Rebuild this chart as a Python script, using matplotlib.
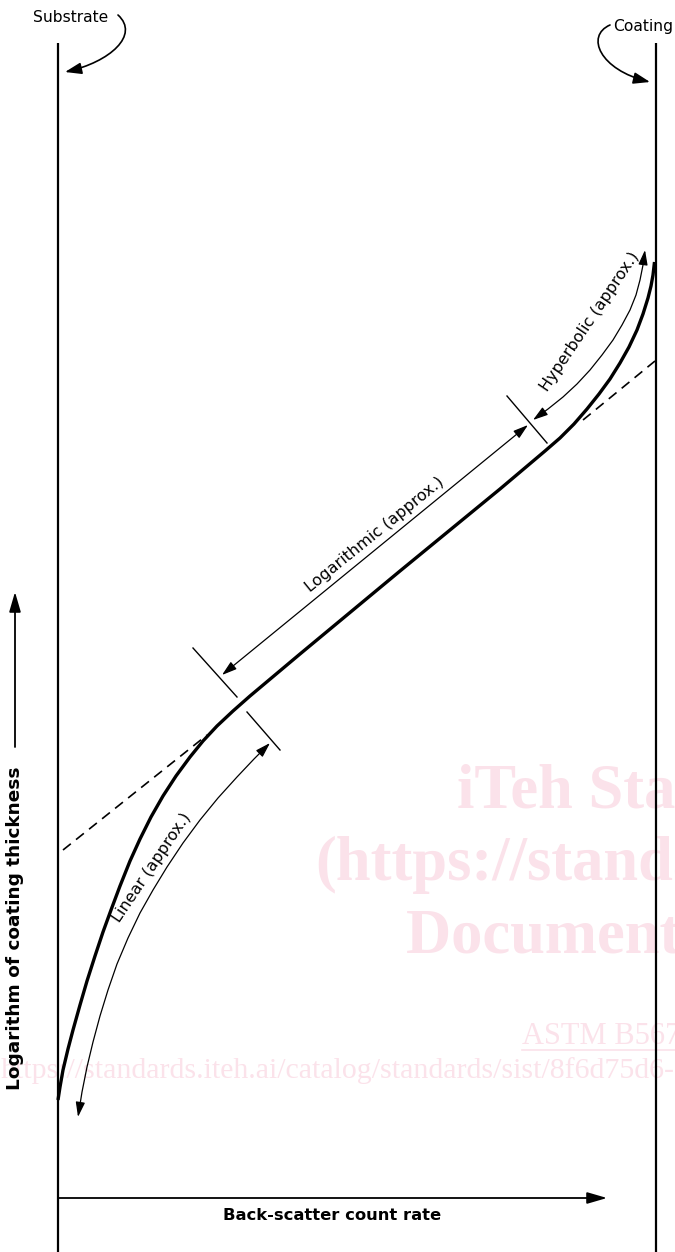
import matplotlib
matplotlib.use("Agg")
import matplotlib.pyplot as plt
from matplotlib.patches import FancyArrowPatch
from matplotlib.path import Path

W, H = 675, 1252

# ---- frame (count-rate axis spans substrate -> coating) ----
substrate_x = 58
coating_x = 656
frame_top = 43
count_axis_y = 1198
count_axis_end = 607
thick_axis_x = 15
thick_axis_span = [747, 592]

# ---- main response curve (thick) ----
curve_x = [58, 60, 63, 68, 73, 80, 87, 95, 103, 111, 120, 130, 140, 151, 163, 176,
           190, 203, 217, 233, 250, 300, 400, 500, 545, 560, 574, 587, 599, 610,
           620, 629, 637, 643, 648, 651, 653, 654.5]
curve_y = [1100, 1087, 1070, 1049, 1030, 1005, 981, 956, 932, 910, 886, 861, 839, 817,
           796, 776, 757, 741, 726, 711, 696, 654, 571, 489, 451, 438, 424, 409, 394,
           379, 363, 347, 330, 314, 298, 286, 275, 262]

# ---- dashed logarithmic extrapolation ----
dash_low_x = [63, 207]
dash_low_y = [850, 735]
dash_high_x = [583, 655]
dash_high_y = [420, 361]

# ---- region arrows ----
linear_x = [270, 254, 237, 218, 200, 183, 167, 153, 140, 128, 117, 108, 100, 93, 87, 82, 78]
linear_y = [743, 759, 777, 798, 820, 843, 867, 890, 913, 938, 964, 990, 1016, 1042, 1067, 1092, 1117]
log_x = [222, 528]
log_y = [675, 425]
hyper_x = [533, 548, 563, 577, 590, 602, 613, 622, 630, 636, 640, 643, 645]
hyper_y = [420, 409, 397, 384, 370, 355, 340, 325, 310, 295, 280, 265, 250]

# ---- boundary ticks ----
tick_x = [[193, 237], [247, 280], [507, 547]]
tick_y = [[648, 697], [712, 750], [396, 443]]

# ---- labels ----
region_labels = ["Linear (approx.)", "Logarithmic (approx.)", "Hyperbolic (approx.)"]
region_label_x = [152, 375, 590]
region_label_y = [868, 535, 322]
region_label_rot = [56, 39, 56]

x_label = "Back-scatter count rate"
y_label = "Logarithm of coating thickness"

wm_color = "#fbe2ea"
watermark = ["iTeh Standards", "(https://standards.iteh.ai)", "Document Preview",
             "ASTM B567-98(2021)",
             "https://standards.iteh.ai/catalog/standards/sist/8f6d75d6-"]
wm_x = [457, 315, 406, 522, 1]
wm_y = [807, 880, 953, 1043, 1078]
wm_size = [45, 45, 45, 22, 21.5]
wm_weight = ["bold", "bold", "bold", "normal", "normal"]

fig = plt.figure(figsize=(W / 100, H / 100), dpi=100)
ax = fig.add_axes([0, 0, 1, 1])
ax.set_xlim(0, W)
ax.set_ylim(H, 0)
ax.axis("off")

# watermark (behind everything)
for t, x, y, s, w in zip(watermark, wm_x, wm_y, wm_size, wm_weight):
    ax.text(x, y, t, fontsize=s, fontweight=w, family="Liberation Serif",
            color=wm_color, ha="left", va="baseline", zorder=0)
ax.plot([wm_x[3], W], [wm_y[3] + 7, wm_y[3] + 7], color=wm_color, lw=1.2, zorder=0)

# frame lines
ax.plot([substrate_x, substrate_x], [frame_top, H], color="black", lw=1.6,
        solid_capstyle="butt", zorder=2)
ax.plot([coating_x, coating_x], [frame_top, H], color="black", lw=1.6,
        solid_capstyle="butt", zorder=2)


def arrow(xs, ys, style="-|>", lw=0.9, hl=0.9, hw=0.28, ms=10):
    path = Path(list(zip(xs, ys)))
    a = FancyArrowPatch(path=path, arrowstyle=f"{style},head_length={hl},head_width={hw}",
                        mutation_scale=ms, color="black", lw=lw,
                        transform=ax.transData, zorder=3)
    ax.add_patch(a)


# count-rate axis arrow
arrow([substrate_x, count_axis_end], [count_axis_y, count_axis_y], lw=1.3, hl=1.2, hw=0.35)
ax.text(332, 1216, x_label, fontsize=11.8,
        fontweight="bold", family="DejaVu Sans", ha="center", va="center")

# thickness axis arrow
arrow([thick_axis_x, thick_axis_x], thick_axis_span, lw=1.3, hl=1.2, hw=0.35)
ax.text(thick_axis_x, 928, y_label, fontsize=13.3, fontweight="bold",
        family="DejaVu Sans", rotation=90, ha="center", va="center")

# main curve and dashed extrapolation
ax.plot(curve_x, curve_y, color="black", lw=2.4, solid_capstyle="butt",
        solid_joinstyle="round", zorder=4)
for dx, dy in [(dash_low_x, dash_low_y), (dash_high_x, dash_high_y)]:
    ax.plot(dx, dy, color="black", lw=1.2, dashes=(6, 4), zorder=3)

# region arrows
arrow(linear_x, linear_y, style="<|-|>")
arrow(log_x, log_y, style="<|-|>")
arrow(hyper_x, hyper_y, style="<|-|>")

for tx, ty in zip(tick_x, tick_y):
    ax.plot(tx, ty, color="black", lw=1.0, zorder=3)

for t, x, y, r in zip(region_labels, region_label_x, region_label_y, region_label_rot):
    ax.text(x, y, t, fontsize=11.5, family="DejaVu Sans", rotation=r,
            rotation_mode="anchor", ha="center", va="center", zorder=5)

# top labels with curved pointers
ax.text(71, 17, "Substrate", fontsize=11.2, family="DejaVu Sans", ha="center", va="center")
ax.text(643, 27, "Coating", fontsize=11.2, family="DejaVu Sans", ha="center", va="center")

sub_path = Path([(118, 15), (140, 35), (110, 62), (65, 72)],
                [Path.MOVETO, Path.CURVE4, Path.CURVE4, Path.CURVE4])
coat_path = Path([(610, 25), (585, 36), (600, 70), (650, 82)],
                 [Path.MOVETO, Path.CURVE4, Path.CURVE4, Path.CURVE4])
for p in (sub_path, coat_path):
    ax.add_patch(FancyArrowPatch(path=p, arrowstyle="-|>,head_length=1.0,head_width=0.35",
                                 mutation_scale=10, color="black", lw=1.2,
                                 transform=ax.transData, zorder=3))

fig.savefig("out.png", dpi=100)
